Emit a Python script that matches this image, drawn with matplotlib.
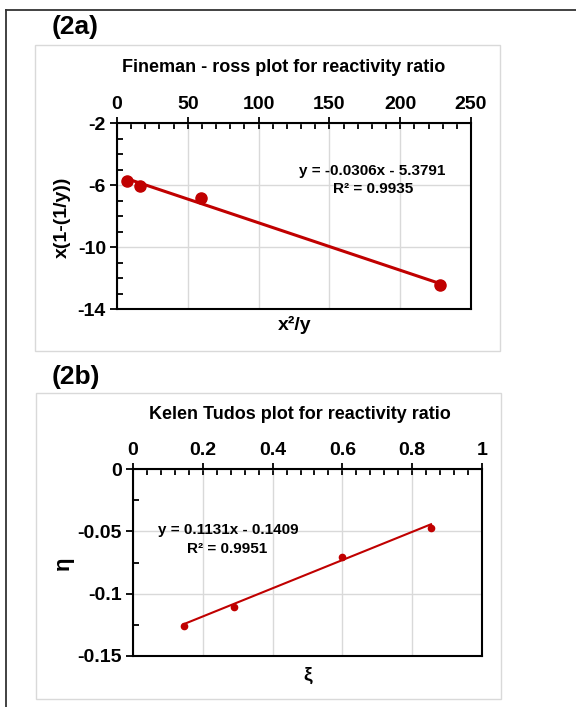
import matplotlib
matplotlib.use("Agg")
import matplotlib.pyplot as plt
from matplotlib.patches import Rectangle
from matplotlib.lines import Line2D
from matplotlib.ticker import MultipleLocator
import numpy as np

plt.rcParams['font.family'] = ['Liberation Sans', 'DejaVu Sans']

# Panel (2a) Fineman-Ross data
fr_x = [7.1, 16.0, 59.1, 228.0]
fr_y = [-5.76, -6.04, -6.84, -12.47]
fr_slope, fr_intercept = -0.0306, -5.3791
fr_eq = "y = -0.0306x - 5.3791"
fr_r2 = "R² = 0.9935"
fr_xticks = [0, 50, 100, 150, 200, 250]
fr_yticks = [-14, -10, -6, -2]

# Panel (2b) Kelen-Tudos data
kt_x = [0.146, 0.290, 0.600, 0.854]
kt_y = [-0.1257, -0.1104, -0.0709, -0.0470]
kt_slope, kt_intercept = 0.1131, -0.1409
kt_eq = "y = 0.1131x - 0.1409"
kt_r2 = "R² = 0.9951"
kt_xticks = [0, 0.2, 0.4, 0.6, 0.8, 1.0]
kt_yticks = [-0.15, -0.1, -0.05, 0]

W, H = 576, 707
fig = plt.figure(figsize=(W/100, H/100), dpi=100)

def fx(px):
    return px / W

def fy(py):
    return 1 - py / H

# outer border lines
fig.add_artist(Line2D([fx(6), fx(6)], [fy(10), 0], color='#333333', lw=1.3, transform=fig.transFigure))
fig.add_artist(Line2D([fx(6), 1], [fy(10), fy(10)], color='#333333', lw=1.3, transform=fig.transFigure))

# chart area boxes
for (l, t, r, b) in [(35, 45, 500, 351), (36, 393, 501, 699)]:
    fig.add_artist(Rectangle((fx(l), fy(b)), fx(r - l), (b - t) / H, transform=fig.transFigure,
                             fill=False, edgecolor='#d9d9d9', lw=1.0))

red = '#C00000'
tick_fs = 14

def fmt(v):
    s = f"{v:.2f}".rstrip('0').rstrip('.')
    if s in ('-0', ''):
        s = '0'
    return s

def style_axes(ax, xticks, yticks, xmin, ymin):
    ax.xaxis.set_ticks_position('top')
    ax.xaxis.set_label_position('bottom')
    ax.set_xticks(xticks)
    ax.set_xticklabels([fmt(v) for v in xticks], fontweight='bold')
    ax.set_yticks(yticks)
    ax.set_yticklabels([fmt(v) for v in yticks], fontweight='bold')
    ax.xaxis.set_minor_locator(MultipleLocator(xmin))
    ax.yaxis.set_minor_locator(MultipleLocator(ymin))
    ax.tick_params(axis='x', which='major', direction='inout', length=8, width=1.3,
                   labelsize=tick_fs, pad=3)
    ax.tick_params(axis='x', which='minor', direction='in', length=4, width=1.3)
    ax.tick_params(axis='y', which='major', direction='out', length=5, width=1.3,
                   labelsize=tick_fs, pad=3)
    ax.tick_params(axis='y', which='minor', direction='in', length=4, width=1.3)
    for s in ax.spines.values():
        s.set_linewidth(1.5)
        s.set_color('black')
    ax.grid(True, which='major', color='#d9d9d9', lw=1.0)
    ax.set_axisbelow(True)

# ---- Panel a ----
axa = fig.add_axes([fx(117), fy(309), (471 - 117) / W, (309 - 123) / H])
style_axes(axa, fr_xticks, fr_yticks, 10, 1)
xx = np.array([min(fr_x), max(fr_x)])
axa.plot(xx, fr_slope * xx + fr_intercept, color=red, lw=2.2, zorder=3)
axa.plot(fr_x, fr_y, 'o', color=red, ms=8, zorder=4)
axa.set_xlim(0, 250)
axa.set_ylim(-14, -2)

fig.text(fx(52), fy(27), "(2a)", fontsize=19, fontweight='bold', va='center', ha='left')
fig.text(fx(284), fy(68), "Fineman - ross plot for reactivity ratio", fontsize=13,
         fontweight='bold', ha='center', va='center')
fig.text(fx(372), fy(171), fr_eq, fontsize=11, fontweight='bold', ha='center', va='center')
fig.text(fx(373), fy(189), fr_r2, fontsize=11, fontweight='bold', ha='center', va='center')
fig.text(fx(295), fy(325), "x²/y", fontsize=14, fontweight='bold', ha='center', va='center')
fig.text(fx(62), fy(217), "x(1-(1/y))", fontsize=14, fontweight='bold', ha='center', va='center',
         rotation=90)

# ---- Panel b ----
axb = fig.add_axes([fx(133), fy(656), (482 - 133) / W, (656 - 469) / H])
style_axes(axb, kt_xticks, kt_yticks, 0.04, 0.025)
xx = np.array([min(kt_x), max(kt_x)])
axb.plot(xx, kt_slope * xx + kt_intercept, color=red, lw=1.5, zorder=3)
axb.plot(kt_x, kt_y, 'o', color=red, ms=4.5, zorder=4)
axb.set_xlim(0, 1)
axb.set_ylim(-0.15, 0)

fig.text(fx(52), fy(377), "(2b)", fontsize=19, fontweight='bold', va='center', ha='left')
fig.text(fx(300), fy(415), "Kelen Tudos plot for reactivity ratio", fontsize=13,
         fontweight='bold', ha='center', va='center')
fig.text(fx(228), fy(530), kt_eq, fontsize=11, fontweight='bold', ha='center', va='center')
fig.text(fx(227), fy(549), kt_r2, fontsize=11, fontweight='bold', ha='center', va='center')
fig.text(fx(308), fy(675), "ξ", fontsize=14, fontweight='bold', ha='center', va='center')
fig.text(fx(63), fy(563), "η", fontsize=16, fontweight='bold', ha='center', va='center',
         rotation=90)

fig.savefig("out.png", dpi=100)
